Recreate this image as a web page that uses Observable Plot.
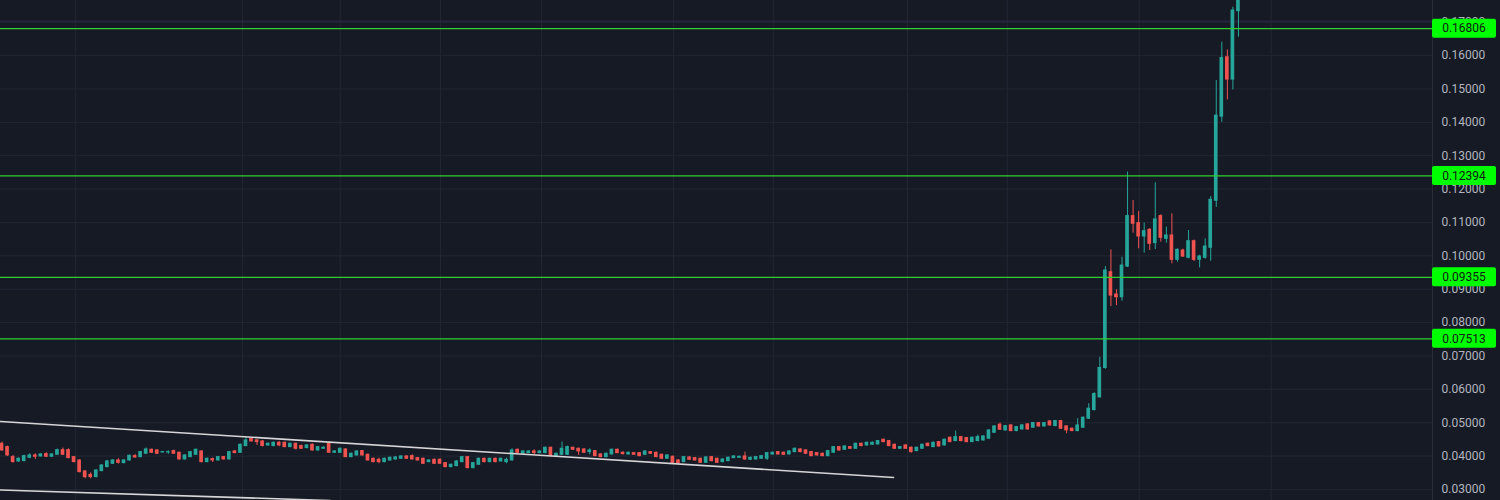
<!DOCTYPE html>
<html>
<head>
<meta charset="utf-8">
<script src="https://cdn.jsdelivr.net/npm/d3@7"></script>
<script src="https://cdn.jsdelivr.net/npm/@observablehq/plot@0.6"></script>
<style>
  html, body { margin: 0; padding: 0; background: #161a25; }
  #chart svg { display: block; }
</style>
</head>
<body>
<div id="chart"></div>
<script>
const openV = [
.0437,.0427,.0397,.0384,.0385,.0395,.0402,.0399,.0406,.0398,
.0404,.0418,.0418,.0397,.0387,.0354,.0344,.0337,.0355,.0367,
.0377,.0387,.0379,.0387,.0400,.0397,.0407,.0419,.0417,.0411,
.0411,.0415,.0410,.0390,.0397,.0404,.0414,.0382,.0391,.0387,
.0397,.0390,.0414,.0410,.0430,.0452,.0447,.0444,.0432,.0430,
.0440,.0440,.0427,.0437,.0430,.0424,.0434,.0417,.0422,.0437,
.0410,.0410,.0420,.0397,.0402,.0415,.0404,.0392,.0389,.0382,
.0387,.0390,.0392,.0399,.0400,.0394,.0392,.0382,.0389,.0389,
.0379,.0367,.0370,.0382,.0397,.0364,.0374,.0392,.0382,.0392,
.0384,.0382,.0387,.0419,.0407,.0409,.0414,.0409,.0409,.0425,
.0400,.0404,.0404,.0425,.0422,.0420,.0412,.0415,.0405,.0397,
.0405,.0419,.0410,.0405,.0409,.0409,.0404,.0412,.0410,.0404,
.0392,.0398,.0387,.0382,.0396,.0394,.0392,.0380,.0397,.0392,
.0382,.0385,.0394,.0395,.0399,.0389,.0390,.0392,.0392,.0405,
.0412,.0410,.0405,.0412,.0420,.0417,.0412,.0409,.0407,.0400,
.0410,.0427,.0419,.0427,.0422,.0437,.0432,.0434,.0435,.0449,
.0445,.0434,.0422,.0432,.0425,.0415,.0422,.0437,.0427,.0442,
.0432,.0455,.0445,.0457,.0454,.0442,.0445,.0447,.0452,.0470,
.0494,.0477,.0492,.0475,.0480,.0495,.0485,.0499,.0489,.0504,
.0490,.0505,.0489,.0482,.0475,.0485,.0512,.0538,.0576,.0664,
.0951,.0884,.0876,.0968,.1119,.1098,.1058,.1078,.1038,.1119,
.1051,.1061,.0988,.1016,.0994,.1044,.0988,.0994,.1024,.1165,
.1417,.1595,.1528,.1733
];
const closeV = [
.0417,.0402,.0382,.0392,.0400,.0402,.0398,.0405,.0398,.0405,
.0418,.0404,.0394,.0382,.0352,.0337,.0337,.0357,.0372,.0384,
.0387,.0380,.0387,.0401,.0396,.0412,.0420,.0410,.0407,.0412,
.0412,.0407,.0390,.0402,.0412,.0419,.0382,.0392,.0387,.0397,
.0390,.0412,.0409,.0434,.0447,.0444,.0442,.0430,.0437,.0440,
.0432,.0427,.0437,.0422,.0422,.0432,.0417,.0427,.0425,.0410,
.0414,.0422,.0397,.0407,.0414,.0402,.0387,.0382,.0382,.0392,
.0395,.0396,.0399,.0392,.0390,.0387,.0377,.0387,.0377,.0377,
.0367,.0374,.0384,.0397,.0364,.0379,.0392,.0382,.0392,.0382,
.0392,.0389,.0417,.0410,.0414,.0414,.0409,.0414,.0425,.0400,
.0407,.0422,.0427,.0419,.0414,.0410,.0417,.0400,.0397,.0407,
.0419,.0409,.0406,.0410,.0404,.0400,.0414,.0407,.0397,.0392,
.0402,.0379,.0379,.0397,.0389,.0387,.0380,.0396,.0385,.0380,
.0390,.0395,.0399,.0398,.0390,.0395,.0397,.0400,.0409,.0410,
.0405,.0404,.0414,.0422,.0412,.0407,.0400,.0402,.0400,.0415,
.0427,.0417,.0429,.0422,.0437,.0430,.0440,.0440,.0445,.0442,
.0430,.0422,.0427,.0422,.0412,.0425,.0434,.0430,.0440,.0429,
.0449,.0442,.0457,.0445,.0442,.0455,.0457,.0459,.0477,.0489,
.0479,.0490,.0475,.0487,.0492,.0480,.0499,.0489,.0499,.0492,
.0505,.0482,.0477,.0475,.0492,.0515,.0542,.0586,.0664,.0956,
.0881,.0876,.0971,.1119,.1096,.1058,.1074,.1036,.1109,.1054,
.1061,.0988,.1018,.0998,.1044,.0988,.0998,.1028,.1168,.1420,
.1593,.1528,.1735,.1800
];
const highV = [
.0442,.0430,.0402,.0395,.0403,.0407,.0407,.0407,.0410,.0407,
.0421,.0424,.0422,.0399,.0389,.0357,.0350,.0359,.0374,.0387,
.0390,.0392,.0389,.0403,.0405,.0414,.0424,.0421,.0419,.0414,
.0416,.0418,.0412,.0404,.0414,.0421,.0416,.0394,.0394,.0399,
.0399,.0414,.0417,.0436,.0457,.0455,.0449,.0446,.0439,.0442,
.0444,.0442,.0439,.0439,.0433,.0434,.0436,.0429,.0428,.0442,
.0416,.0424,.0422,.0409,.0416,.0417,.0406,.0394,.0394,.0394,
.0397,.0398,.0401,.0401,.0404,.0396,.0394,.0389,.0391,.0392,
.0381,.0376,.0386,.0399,.0399,.0381,.0394,.0394,.0394,.0394,
.0394,.0394,.0422,.0421,.0416,.0416,.0419,.0416,.0427,.0427,
.0409,.0442,.0430,.0427,.0424,.0422,.0422,.0417,.0407,.0409,
.0421,.0421,.0413,.0412,.0411,.0411,.0416,.0414,.0412,.0406,
.0404,.0400,.0390,.0399,.0398,.0396,.0394,.0398,.0399,.0394,
.0392,.0397,.0401,.0400,.0412,.0397,.0399,.0402,.0411,.0412,
.0414,.0412,.0416,.0424,.0422,.0419,.0414,.0411,.0409,.0417,
.0429,.0429,.0431,.0429,.0439,.0439,.0442,.0442,.0447,.0451,
.0447,.0436,.0429,.0434,.0427,.0427,.0436,.0439,.0442,.0444,
.0451,.0457,.0475,.0459,.0456,.0457,.0463,.0461,.0479,.0491,
.0499,.0492,.0494,.0489,.0494,.0497,.0501,.0501,.0501,.0506,
.0507,.0507,.0491,.0484,.0512,.0517,.0557,.0590,.0696,.0968,
.1018,.0898,.0996,.1251,.1166,.1133,.1098,.1082,.1219,.1123,
.1086,.1126,.1021,.1020,.1076,.1047,.1002,.1051,.1178,.1525,
.1640,.1617,.1745,.1830
];
const lowV = [
.0414,.0399,.0379,.0381,.0383,.0392,.0390,.0397,.0396,.0396,
.0402,.0402,.0392,.0380,.0350,.0332,.0332,.0335,.0353,.0365,
.0375,.0376,.0377,.0385,.0393,.0395,.0405,.0408,.0405,.0409,
.0405,.0405,.0388,.0388,.0395,.0402,.0380,.0380,.0381,.0385,
.0388,.0388,.0407,.0408,.0428,.0442,.0432,.0428,.0430,.0428,
.0428,.0425,.0425,.0418,.0420,.0422,.0415,.0415,.0420,.0408,
.0408,.0408,.0395,.0395,.0400,.0400,.0385,.0380,.0377,.0380,
.0385,.0388,.0390,.0390,.0388,.0385,.0375,.0380,.0375,.0375,
.0365,.0365,.0368,.0380,.0362,.0362,.0372,.0380,.0380,.0380,
.0382,.0377,.0385,.0408,.0405,.0407,.0405,.0407,.0407,.0398,
.0398,.0402,.0402,.0417,.0402,.0408,.0404,.0398,.0395,.0395,
.0403,.0407,.0403,.0403,.0402,.0398,.0402,.0405,.0395,.0390,
.0390,.0377,.0377,.0380,.0387,.0385,.0378,.0378,.0383,.0378,
.0380,.0383,.0392,.0393,.0387,.0387,.0388,.0390,.0387,.0403,
.0403,.0402,.0403,.0410,.0410,.0405,.0398,.0400,.0398,.0398,
.0408,.0415,.0417,.0420,.0420,.0428,.0430,.0432,.0433,.0440,
.0428,.0420,.0420,.0420,.0409,.0413,.0420,.0428,.0425,.0427,
.0430,.0440,.0443,.0443,.0440,.0440,.0443,.0445,.0450,.0468,
.0477,.0475,.0473,.0473,.0478,.0477,.0483,.0487,.0487,.0490,
.0488,.0480,.0467,.0473,.0473,.0483,.0510,.0535,.0574,.0660,
.0848,.0851,.0864,.0965,.1068,.1021,.1008,.1016,.1019,.1041,
.1038,.0976,.0981,.0995,.0991,.0983,.0964,.0990,.0984,.1145,
.1400,.1467,.1497,.1655
];

// horizontal support / resistance levels
const levels = [0.16806, 0.12394, 0.09355, 0.07513];
// faint current-price line
const priceLine = [0.1703];
// price axis ticks
const yTicks = [0.03,0.04,0.05,0.06,0.07,0.08,0.09,0.10,0.11,0.12,0.13,0.14,0.15,0.16,0.17];
// time grid positions (in bar units)
const timeGrid = [13.3, 43.4, 61.0, 79.1, 97.3, 121.1, 139.1, 163.3, 181.3, 205.1, 228.9];
// trend lines (bar index, price)
const upperTrend = [{i: -0.27, v: 0.05037}, {i: 160.8, v: 0.03360}];
const lowerTrend = [{i: -0.27, v: 0.02985}, {i: 59.2, v: 0.02670}];

const candles = openV.map((o, i) => ({i, open: o, close: closeV[i], high: highV[i], low: lowV[i]}));
const up = "#26a69a", down = "#ef5350";
const colorOf = d => d.close >= d.open ? up : down;

function levelLabels(index, scales, values, dimensions) {
  const g = d3.create("svg:g");
  const x0 = dimensions.width - dimensions.marginRight;
  for (const v of levels) {
    const y = scales.y(v);
    g.append("rect").attr("x", x0).attr("y", y - 9.5).attr("width", 64).attr("height", 19)
      .attr("rx", 2).attr("fill", "#00ff00");
    g.append("text").attr("x", x0 + 32).attr("y", y).attr("dy", "0.36em")
      .attr("text-anchor", "middle").attr("fill", "#10200f")
      .attr("font-size", 12).attr("font-family", "Roboto").text(v.toFixed(5));
  }
  return g.node();
}

const chart = Plot.plot({
  width: 1500,
  height: 500,
  marginLeft: 0,
  marginRight: 68,
  marginTop: 0,
  marginBottom: 0,
  style: {background: "#161a25", fontFamily: "Roboto", fontSize: "12px", color: "#b2b5be"},
  x: {domain: [-0.27, 258], axis: null},
  y: {domain: [0.0267, 0.1765], axis: null},
  marks: [
    Plot.ruleY(yTicks, {stroke: "#232734", strokeWidth: 1}),
    Plot.ruleX(timeGrid, {stroke: "#232734", strokeWidth: 1}),
    Plot.ruleY(priceLine, {stroke: "#2e2848", strokeWidth: 1}),
    Plot.ruleX(candles, {x: "i", y1: "low", y2: "high", stroke: colorOf, strokeWidth: 1, clip: true}),
    Plot.rect(candles, {
      x1: d => d.i - 0.33, x2: d => d.i + 0.33,
      y1: "open", y2: "close", fill: colorOf,
      insetTop: -0.5, insetBottom: -0.5, clip: true
    }),
    Plot.line(upperTrend, {x: "i", y: "v", stroke: "#d6d6d6", strokeWidth: 1.6, clip: true}),
    Plot.line(lowerTrend, {x: "i", y: "v", stroke: "#d6d6d6", strokeWidth: 1.6, clip: true}),
    Plot.ruleY(levels, {stroke: "#2fd02f", strokeWidth: 1.3}),
    Plot.ruleX([258], {stroke: "#2a2e39", strokeWidth: 1}),
    Plot.axisY(yTicks, {anchor: "right", tickSize: 0, tickPadding: 9,
      tickFormat: d => d.toFixed(5), fill: "#b2b5be", fontSize: 12}),
    levelLabels
  ]
});
document.getElementById("chart").appendChild(chart);
</script>
</body>
</html>
